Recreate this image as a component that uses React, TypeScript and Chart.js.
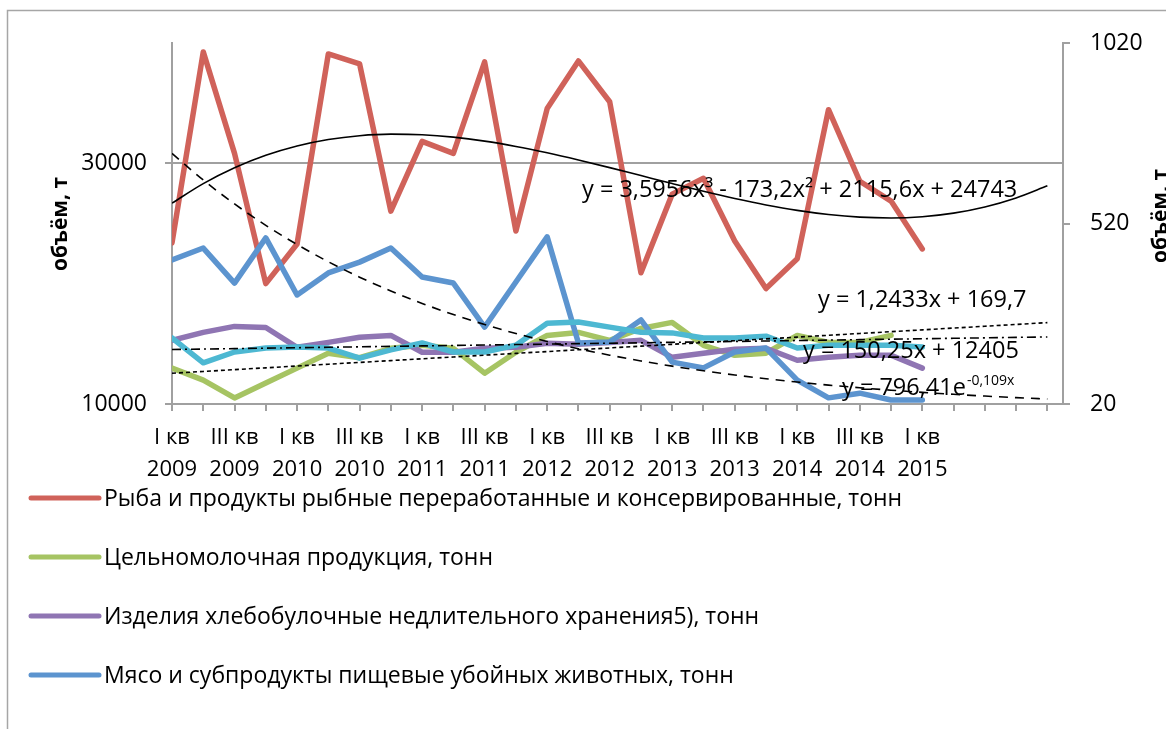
import React, { useEffect, useRef } from "react";
import { Chart, registerables } from "chart.js";

Chart.register(...registerables);

// ---------- data ----------
const categories = [
  "I кв 2009", "II кв 2009", "III кв 2009", "IV кв 2009",
  "I кв 2010", "II кв 2010", "III кв 2010", "IV кв 2010",
  "I кв 2011", "II кв 2011", "III кв 2011", "IV кв 2011",
  "I кв 2012", "II кв 2012", "III кв 2012", "IV кв 2012",
  "I кв 2013", "II кв 2013", "III кв 2013", "IV кв 2013",
  "I кв 2014", "II кв 2014", "III кв 2014", "IV кв 2014",
  "I кв 2015",
];
const forecastPeriods = 4;

const fishValues = [
  23390, 39260, 30830, 20000, 23300, 39090, 38260, 26030, 31820, 30830,
  38430, 24380, 34550, 38510, 35120, 20910, 27440, 28760, 23550, 19590,
  22070, 34460, 28510, 26860, 22890,
];
const milkValues = [
  12980, 11980, 10500, 11740, 12980, 14220, 13850, 14630, 14880, 14630,
  12560, 14300, 15700, 15950, 15290, 16280, 16780, 14880, 14050, 14220,
  15700, 15120, 15120, 15700,
];
const breadValues = [
  15290, 15950, 16450, 16360, 14710, 15120, 15540, 15700, 14300, 14300,
  14630, 14710, 15040, 14960, 15120, 15290, 13880, 14220, 14550, 14630,
  13640, 13880, 14050, 14050, 12980,
];
const meatValues = [
  419, 452, 355, 480, 322, 383, 413, 452, 372, 355,
  233, 358, 483, 189, 192, 253, 136, 120, 164, 175,
  86, 37, 50, 31, 31,
];
const fifthValues = [
  203, 134, 164, 175, 178, 175, 147, 170, 189, 164,
  164, 183, 244, 247, 233, 219, 217, 203, 203, 208,
  175, 183, 183, 183, 178,
];

const seriesNames = [
  "Рыба и продукты рыбные переработанные и консервированные, тонн",
  "Цельномолочная продукция, тонн",
  "Изделия хлебобулочные недлительного хранения5), тонн",
  "Мясо и субпродукты пищевые убойных животных, тонн",
  "Прочая продукция, тонн",
];

// trendline coefficients as printed on the chart
const fishTrendPoly = [24743, 2115.6, -173.2, 3.5956];
const milkTrendLin = [12405, 150.25];
const fifthTrendLin = [169.7, 1.2433];
const meatTrendExp = [796.41, -0.109];

const leftTicks = [10000, 30000];
const rightTicks = [20, 520, 1020];

const axisTitle = "объём, т";
const fishTrendText = "y = 3,5956x³ - 173,2x² + 2115,6x + 24743";
const fifthTrendText = "y = 1,2433x + 169,7";
const milkTrendText = "y = 150,25x + 12405";
const meatTrendText = "y = 796,41e";
const meatTrendExpText = "-0,109x";

// ---------- helpers ----------
const toPts = (arr: number[]) => arr.map((v, i) => ({ x: i, y: v }));
const trendXs = Array.from({ length: categories.length + forecastPeriods }, (_, i) => i);
const polyPts = (c: number[]) =>
  trendXs.map((i) => {
    const t = i + 1;
    return { x: i, y: c[0] + c[1] * t + c[2] * t * t + c[3] * t * t * t };
  });
const linPts = (c: number[]) => trendXs.map((i) => ({ x: i, y: c[0] + c[1] * (i + 1) }));
const expPts = (c: number[]) => trendXs.map((i) => ({ x: i, y: c[0] * Math.exp(c[1] * (i + 1)) }));

const FONT = "'Open Sans', 'Noto Sans', sans-serif";
const AXIS_COLOR = "#a0a0a0";

const overlayPlugin = {
  id: "overlay",
  beforeDraw(chart: any) {
    const ctx = chart.ctx;
    ctx.save();
    ctx.fillStyle = "#ffffff";
    ctx.fillRect(0, 0, chart.width, chart.height);
    ctx.strokeStyle = "#a6a6a6";
    ctx.lineWidth = 1.5;
    ctx.strokeRect(7.5, 10.5, chart.width + 40, chart.height + 40);
    ctx.restore();
  },
  afterDraw(chart: any) {
    const ctx = chart.ctx;
    ctx.save();
    ctx.fillStyle = "#000";
    // axis titles
    ctx.font = `bold 21px ${FONT}`;
    ctx.textAlign = "center";
    ctx.textBaseline = "alphabetic";
    ctx.save();
    ctx.translate(67, 224);
    ctx.rotate(-Math.PI / 2);
    ctx.fillText(axisTitle, 0, 0);
    ctx.restore();
    ctx.save();
    ctx.translate(1167, 216);
    ctx.rotate(-Math.PI / 2);
    ctx.fillText(axisTitle, 0, 0);
    ctx.restore();

    // trendline labels
    ctx.textAlign = "left";
    ctx.font = `23.5px ${FONT}`;
    ctx.fillText(fishTrendText, 582, 197);
    ctx.fillText(fifthTrendText, 818, 307);
    ctx.fillText(milkTrendText, 803, 358);
    ctx.fillText(meatTrendText, 842, 395);
    const w = ctx.measureText(meatTrendText).width;
    ctx.font = `14px ${FONT}`;
    ctx.fillText(meatTrendExpText, 842 + w + 1, 385);

    // legend
    const items = chart.data.datasets.filter((d: any) => d.legendRow !== undefined);
    ctx.font = `23px ${FONT}`;
    ctx.textBaseline = "middle";
    items.forEach((d: any) => {
      const y = 498 + d.legendRow * 59;
      ctx.strokeStyle = d.borderColor;
      ctx.lineWidth = 5;
      ctx.lineCap = "round";
      ctx.beginPath();
      ctx.moveTo(31, y);
      ctx.lineTo(99, y);
      ctx.stroke();
      ctx.fillStyle = "#000";
      ctx.fillText(d.label, 104, y + 1);
    });
    ctx.restore();
  },
};

export default function App() {
  const ref = useRef<HTMLCanvasElement | null>(null);

  useEffect(() => {
    if (!ref.current) return;
    const lineBase = {
      pointRadius: 0,
      borderWidth: 5.5,
      borderJoinStyle: "round" as const,
      borderCapStyle: "round" as const,
      fill: false,
    };
    const trendBase = {
      pointRadius: 0,
      borderWidth: 1.6,
      borderColor: "#000",
      fill: false,
      order: 0,
    };
    const chart = new Chart(ref.current, {
      type: "line",
      data: {
        datasets: [
          { ...lineBase, label: seriesNames[0], data: toPts(fishValues), borderColor: "#D0625A", yAxisID: "y", order: 5, legendRow: 0 } as any,
          { ...lineBase, label: seriesNames[1], data: toPts(milkValues), borderColor: "#A6C463", yAxisID: "y", order: 4, legendRow: 1 } as any,
          { ...lineBase, label: seriesNames[2], data: toPts(breadValues), borderColor: "#8F75B3", yAxisID: "y", order: 3, legendRow: 2 } as any,
          { ...lineBase, label: seriesNames[3], data: toPts(meatValues), borderColor: "#5C94CF", yAxisID: "y1", order: 2, legendRow: 3 } as any,
          { ...lineBase, label: seriesNames[4], data: toPts(fifthValues), borderColor: "#4DB8D2", yAxisID: "y1", order: 1 } as any,
          { ...trendBase, label: "trend1", data: polyPts(fishTrendPoly), yAxisID: "y", cubicInterpolationMode: "monotone" } as any,
          { ...trendBase, label: "trend2", data: linPts(milkTrendLin), yAxisID: "y", borderDash: [4, 3] } as any,
          { ...trendBase, label: "trend4", data: expPts(meatTrendExp), yAxisID: "y1", borderDash: [9, 7], cubicInterpolationMode: "monotone" } as any,
          { ...trendBase, label: "trend5", data: linPts(fifthTrendLin), yAxisID: "y1", borderDash: [9, 4, 2, 4] } as any,
        ],
      },
      options: {
        animation: false,
        responsive: false,
        devicePixelRatio: 1,
        layout: { padding: { top: 43, left: 0, right: 0, bottom: 0 } },
        plugins: { legend: { display: false }, tooltip: { enabled: false }, title: { display: false } },
        scales: {
          x: {
            type: "linear",
            min: 0,
            max: categories.length - 1 + forecastPeriods + 0.5,
            afterBuildTicks: (s: any) => {
              s.ticks = trendXs.map((v) => ({ value: v }));
            },
            afterFit: (s: any) => {
              s.height = 325;
            },
            grid: { drawOnChartArea: false, drawTicks: true, tickLength: 7, color: AXIS_COLOR, lineWidth: 2 },
            border: { display: true, color: AXIS_COLOR, width: 2 },
            ticks: {
              autoSkip: false,
              maxRotation: 0,
              minRotation: 0,
              padding: 11,
              color: "#000",
              font: { family: FONT, size: 22, lineHeight: 1.45 },
              callback: (v: any) => {
                const i = Math.round(Number(v));
                if (i % 2 !== 0 || i >= categories.length) return "";
                const lab = categories[i];
                const k = lab.lastIndexOf(" ");
                return [lab.slice(0, k), lab.slice(k + 1)];
              },
            },
          },
          y: {
            type: "linear",
            position: "left",
            min: 10000,
            max: 40000,
            afterBuildTicks: (s: any) => {
              s.ticks = leftTicks.map((v) => ({ value: v }));
            },
            afterFit: (s: any) => {
              s.width = 172;
            },
            grid: { drawOnChartArea: true, drawTicks: true, tickLength: 7, color: AXIS_COLOR, lineWidth: 2 },
            border: { display: true, color: AXIS_COLOR, width: 2 },
            ticks: { padding: 18, color: "#000", font: { family: FONT, size: 23 }, callback: (v: any) => String(v) },
          },
          y1: {
            type: "linear",
            position: "right",
            min: 20,
            max: 1020,
            afterBuildTicks: (s: any) => {
              s.ticks = rightTicks.map((v) => ({ value: v }));
            },
            afterFit: (s: any) => {
              s.width = 103;
            },
            grid: { drawOnChartArea: false, drawTicks: true, tickLength: 7, color: AXIS_COLOR, lineWidth: 2 },
            border: { display: true, color: AXIS_COLOR, width: 2 },
            ticks: { padding: 20, color: "#000", font: { family: FONT, size: 23 }, callback: (v: any) => String(v) },
          },
        },
      } as any,
      plugins: [overlayPlugin],
    });
    return () => chart.destroy();
  }, []);

  return (
    <div style={{ position: "absolute", left: 0, top: 0, width: 1166, height: 729, overflow: "hidden", background: "#fff" }}>
      <canvas ref={ref} width={1166} height={729} style={{ display: "block", width: 1166, height: 729 }} />
    </div>
  );
}
